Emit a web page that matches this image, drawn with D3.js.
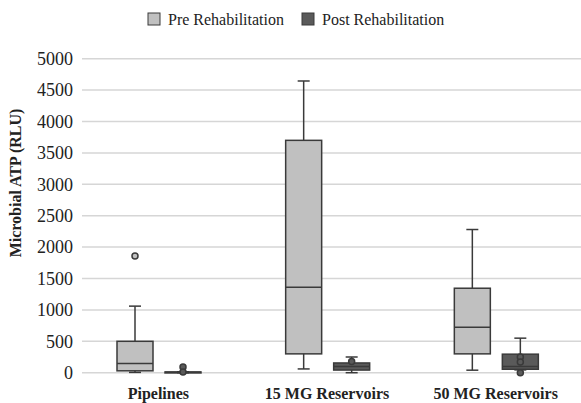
<!DOCTYPE html>
<html lang="en">
<head>
<meta charset="utf-8">
<title>Microbial ATP box plot</title>
<script src="https://cdn.jsdelivr.net/npm/d3@7"></script>
<style>
  body { margin: 0; background: #fff; }
</style>
</head>
<body>
<div id="drawing"></div>
<script>
// chart data
var categories = ['Pipelines', '15 MG Reservoirs', '50 MG Reservoirs'];
var seriesNames = ['Pre Rehabilitation', 'Post Rehabilitation'];
var yTicks = [0, 500, 1000, 1500, 2000, 2500, 3000, 3500, 4000, 4500, 5000];

// [low whisker, q1, median, q3, high whisker] per category
var preStats = [
  [5, 30, 145, 500, 1060],
  [60, 300, 1360, 3700, 4645],
  [40, 300, 725, 1345, 2280]
];
var postStats = [
  [0, 2, 6, 12, 15],
  [0, 42, 100, 155, 250],
  [45, 55, 100, 295, 550]
];
// single points (outliers / means)
var prePoints = [[1858], [], []];
var postPoints = [[90, 12], [180], [250, 170, 0]];

var fills = ['#c0c0c0', '#5a5a5a'];
var serif = "'Liberation Serif', 'Times New Roman', 'DejaVu Serif', serif";

var width = 581, height = 403;

var svg = d3.select('#drawing').append('svg')
  .attr('width', width).attr('height', height)
  .attr('font-family', serif);

var x = d3.scaleBand().domain(categories).range([74, 580]);
var xInner = d3.scaleBand().domain(seriesNames).range([37, 133]);
var y = d3.scaleLinear().domain([0, 5000]).range([372.7, 58.7]);
var boxW = 36;

// gridlines
svg.append('g').selectAll('line').data(yTicks).enter().append('line')
  .attr('x1', 82).attr('x2', 581)
  .attr('y1', function(d) { return y(d); })
  .attr('y2', function(d) { return y(d); })
  .attr('stroke', '#d6d6d6').attr('stroke-width', 1.5);

// y tick labels
svg.append('g').selectAll('text').data(yTicks).enter().append('text')
  .attr('x', 73).attr('y', function(d) { return y(d); })
  .attr('dy', '0.35em').attr('text-anchor', 'end')
  .attr('font-family', serif).attr('font-size', 18).attr('fill', '#222')
  .text(function(d) { return d; });

// y title
svg.append('text')
  .attr('transform', 'translate(21,183) rotate(-90)')
  .attr('text-anchor', 'middle')
  .attr('font-family', serif).attr('font-size', 16).attr('font-weight', 'bold').attr('fill', '#222')
  .text('Microbial ATP (RLU)');

// category labels
svg.append('g').selectAll('text').data(categories).enter().append('text')
  .attr('x', function(d) { return x(d) + x.bandwidth() / 2; })
  .attr('y', 399).attr('text-anchor', 'middle')
  .attr('font-family', serif).attr('font-size', 16).attr('font-weight', 'bold').attr('fill', '#222')
  .text(function(d) { return d; });

function drawBoxes(stats, points, series, fill) {
  var g = svg.append('g');
  categories.forEach(function(cat, i) {
    var s = stats[i];
    var cx = x(cat) + xInner(series) + xInner.bandwidth() / 2;
    var left = cx - boxW / 2;
    var stroke = '#3a3a3a';
    // whisker stem
    g.append('line').attr('x1', cx).attr('x2', cx)
      .attr('y1', y(s[0])).attr('y2', y(s[4]))
      .attr('stroke', stroke).attr('stroke-width', 1.5);
    // caps
    [s[0], s[4]].forEach(function(v) {
      g.append('line').attr('x1', cx - 6).attr('x2', cx + 6)
        .attr('y1', y(v)).attr('y2', y(v))
        .attr('stroke', stroke).attr('stroke-width', 1.5);
    });
    // box
    g.append('rect').attr('x', left).attr('width', boxW)
      .attr('y', y(s[3])).attr('height', Math.max(1, y(s[1]) - y(s[3])))
      .attr('fill', fill).attr('stroke', stroke).attr('stroke-width', 1.5);
    // median
    g.append('line').attr('x1', left).attr('x2', left + boxW)
      .attr('y1', y(s[2])).attr('y2', y(s[2]))
      .attr('stroke', stroke).attr('stroke-width', 1.5);
    // points
    points[i].forEach(function(v) {
      g.append('circle').attr('cx', cx).attr('cy', y(v)).attr('r', 3)
        .attr('fill', fill).attr('stroke', stroke).attr('stroke-width', 1.5);
    });
  });
}

drawBoxes(preStats, prePoints, seriesNames[0], fills[0]);
drawBoxes(postStats, postPoints, seriesNames[1], fills[1]);

// legend
var legend = svg.append('g');
var legendX = [148, 302];
seriesNames.forEach(function(name, i) {
  legend.append('rect').attr('x', legendX[i]).attr('y', 13)
    .attr('width', 12).attr('height', 12)
    .attr('fill', fills[i]).attr('stroke', '#3a3a3a').attr('stroke-width', 1);
  legend.append('text').attr('x', legendX[i] + 20).attr('y', 25)
    .attr('font-family', serif).attr('font-size', 16).attr('fill', '#222')
    .text(name);
});
</script>
</body>
</html>
